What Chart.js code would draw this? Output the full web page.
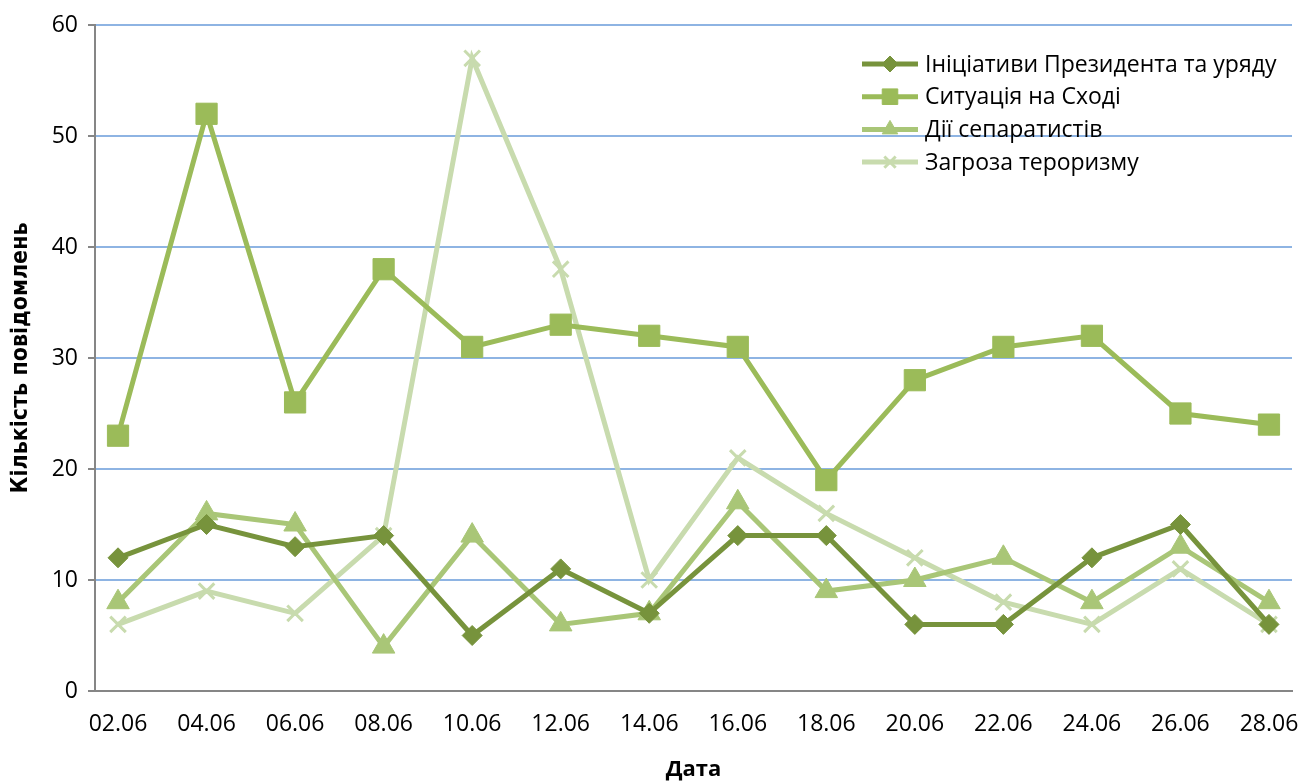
<!DOCTYPE html>
<html>
<head>
<meta charset="utf-8">
<script src="https://cdn.jsdelivr.net/npm/chart.js@4"></script>
<style>
  html, body { margin: 0; padding: 0; background: #fff; }
  #wrap { width: 1314px; height: 783px; }
</style>
</head>
<body>
<div id="wrap"><canvas id="chart" width="1314" height="783"></canvas></div>
<script>
const dates = ['02.06', '04.06', '06.06', '08.06', '10.06', '12.06', '14.06',
  '16.06', '18.06', '20.06', '22.06', '24.06', '26.06', '28.06'];

const initiatives = [12, 15, 13, 14, 5, 11, 7, 14, 14, 6, 6, 12, 15, 6];
const eastSituation = [23, 52, 26, 38, 31, 33, 32, 31, 19, 28, 31, 32, 25, 24];
const separatists = [8, 16, 15, 4, 14, 6, 7, 17, 9, 10, 12, 8, 13, 8];
const terrorism = [6, 9, 7, 14, 57, 38, 10, 21, 16, 12, 8, 6, 11, 6];

const yTicks = [0, 10, 20, 30, 40, 50, 60];

const toPoints = (arr) => arr.map((v, i) => ({ x: i, y: v }));

const makeSet = (label, values, color, style, radius, legendRadius, extra) => ({
  label,
  data: toPoints(values),
  borderColor: color,
  backgroundColor: color,
  pointBackgroundColor: color,
  pointBorderColor: color,
  borderWidth: 5,
  pointStyle: style,
  pointRadius: radius,
  pointHoverRadius: radius,
  pointBorderWidth: 1,
  legendRadius,
  tension: 0,
  fill: false,
  ...extra,
});

// legend drawn inside the plot, top right, one row per series
const insideLegend = {
  id: 'insideLegend',
  afterDraw(chart) {
    const { ctx, chartArea } = chart;
    const x0 = chartArea.right - 430;
    const y0 = 64;
    const rowGap = 32.7;
    ctx.save();
    ctx.font = '23px "Open Sans"';
    ctx.textBaseline = 'middle';
    chart.data.datasets.forEach((ds, i) => {
      const y = y0 + i * rowGap;
      ctx.strokeStyle = ds.borderColor;
      ctx.lineWidth = 5;
      ctx.beginPath();
      ctx.moveTo(x0, y);
      ctx.lineTo(x0 + 56, y);
      ctx.stroke();
      ctx.fillStyle = ds.pointBackgroundColor;
      ctx.strokeStyle = ds.pointBorderColor;
      ctx.lineWidth = ds.pointBorderWidth;
      Chart.helpers.drawPoint(ctx, {
        pointStyle: ds.pointStyle,
        radius: ds.legendRadius,
        rotation: 0,
        borderWidth: ds.pointBorderWidth,
      }, x0 + 28, y);
      ctx.fillStyle = '#000';
      ctx.fillText(ds.label, x0 + 63, y + 1);
    });
    ctx.restore();
  },
};

new Chart(document.getElementById('chart'), {
  type: 'line',
  data: {
    datasets: [
      makeSet('Ініціативи Президента та уряду', initiatives, '#77933C', 'rectRot', 10, 8),
      makeSet('Ситуація на Сході', eastSituation, '#9BBB59', 'rect', 15, 11),
      makeSet('Дії сепаратистів', separatists, '#A9C677', 'triangle', 13, 9),
      makeSet('Загроза тероризму', terrorism, '#C8DBAE', 'crossRot', 11, 8, { pointBorderWidth: 3 }),
    ],
  },
  options: {
    responsive: false,
    animation: false,
    layout: { padding: { top: 25, right: 22, left: 0, bottom: 0 } },
    plugins: {
      legend: { display: false },
      tooltip: { enabled: false },
    },
    scales: {
      x: {
        type: 'linear',
        min: -0.26,
        max: 13.26,
        afterFit: (s) => { s.height = 92; },
        grid: { display: false },
        border: { display: true, color: '#868686', width: 2 },
        ticks: {
          stepSize: 1,
          includeBounds: false,
          autoSkip: false,
          maxRotation: 0,
          padding: 12,
          color: '#000',
          font: { family: '"Open Sans"', size: 23 },
          callback: (v) => dates[v] ?? '',
        },
        title: {
          display: true,
          text: 'Дата',
          color: '#000',
          font: { family: '"Open Sans"', size: 22, weight: 'bold' },
          padding: { top: 8, bottom: 0 },
        },
      },
      y: {
        min: 0,
        max: 60,
        afterFit: (s) => { s.width = 95; },
        afterBuildTicks: (s) => { s.ticks = yTicks.map((v) => ({ value: v })); },
        grid: {
          color: (c) => (c.tick && c.tick.value === 0 ? '#868686' : '#8EB4E3'),
          lineWidth: 2,
          tickColor: '#868686',
          tickLength: 7,
        },
        border: { display: true, color: '#868686', width: 2 },
        ticks: {
          padding: 10,
          color: '#000',
          font: { family: '"Open Sans"', size: 23 },
        },
        title: {
          display: true,
          text: 'Кількість повідомлень',
          color: '#000',
          font: { family: '"DejaVu Sans Condensed", "Open Sans"', size: 23, weight: 'bold' },
          padding: { top: 7, bottom: 0 },
        },
      },
    },
  },
  plugins: [insideLegend],
});
</script>
</body>
</html>
